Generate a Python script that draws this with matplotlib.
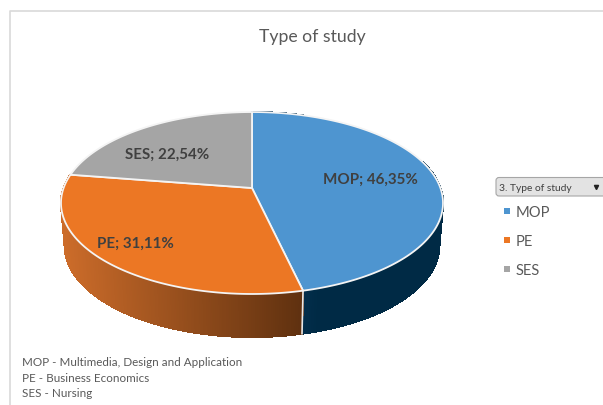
import matplotlib
matplotlib.use('Agg')
import matplotlib.pyplot as plt
import numpy as np
from matplotlib.colors import to_rgb
from matplotlib.patches import FancyBboxPatch

plt.rcParams['font.family'] = ['Lato', 'DejaVu Sans']

categories = ['MOP', 'PE', 'SES']
shares = [46.35, 31.11, 22.54]
colors = ['#4E95D0', '#EC7724', '#A5A5A5']
# wall colours left -> right along the front rim
wall_left = {'MOP': '#0A3A60', 'PE': '#CC6C2A'}
wall_right = {'MOP': '#002A45', 'PE': '#5E300F'}
notes = ['MOP - Multimedia, Design and Application', 'PE - Business Economics', 'SES - Nursing']
title = 'Type of study'
slicer_title = '3. Type of study'

# pie geometry in pixels, tilted with a bit of perspective
CX, CY = 252, 189
RX, RY = 188.4, 88.5
K = 0.165
DEPTH = 43
BOTTOM_SHRINK = 0.98


def rim(theta):
    # theta in radians, clockwise from 12 o'clock
    u, v = np.sin(theta), np.cos(theta)
    d = 1 + K * v
    return CX + RX * u / d, CY - RY * v / d


def mix(c1, c2, t):
    a, b = np.array(to_rgb(c1)), np.array(to_rgb(c2))
    return tuple(a + (b - a) * t)


fig = plt.figure(figsize=(6.03, 4.06), dpi=100)
ax = fig.add_axes([0, 0, 1, 1])
ax.set_xlim(0, 603)
ax.set_ylim(406, 0)
ax.axis('off')

# chart frame
ax.plot([9.5, 9.5, 603], [406, 11.5, 11.5], color='#D9D9D9', lw=1.2, zorder=1)

edges = np.deg2rad(np.cumsum([0] + shares) * 3.6)

# side wall, only the front part of the rim shows
for i, name in enumerate(categories):
    if name not in wall_left:
        continue
    t = np.linspace(edges[i], edges[i + 1], 240)
    x, y = rim(t)
    keep = (np.sin(t) * np.cos(t) < 0.3) | (np.cos(t) < 0.1)
    x, y = x[keep], y[keep]
    xb = CX + (x - CX) * BOTTOM_SHRINK
    x0, x1 = x.min(), x.max()
    for j in range(len(x) - 1):
        f = (min(x[j], x[j + 1]) - x0) / (x1 - x0)
        if name == 'MOP':
            f = min(1, f * 3)  # blue goes dark quickly
        ax.fill([x[j], x[j + 1], xb[j + 1], xb[j]],
                [y[j], y[j + 1], y[j + 1] + DEPTH, y[j] + DEPTH],
                color=mix(wall_left[name], wall_right[name], f), lw=0.8, antialiased=False, zorder=2)

# white seam between the two wall colours
sx, sy = rim(edges[1])
ax.plot([sx, CX + (sx - CX) * BOTTOM_SHRINK], [sy, sy + DEPTH], color='#E8E8E8', lw=1.2, zorder=3)

# top face
for i, name in enumerate(categories):
    t = np.linspace(edges[i], edges[i + 1], 200)
    x, y = rim(t)
    ax.fill(np.r_[CX, x], np.r_[CY, y], facecolor=colors[i], edgecolor='#F4F4F4',
            lw=1.3, joinstyle='round', zorder=4)

# data labels
label_pos = [(370, 180), (135.5, 244), (167.5, 154.5)]
for name, val, pos in zip(categories, shares, label_pos):
    ax.text(pos[0], pos[1], f'{name}; {val:.2f}'.replace('.', ',') + '%', ha='center', va='center',
            fontsize=10.9, fontweight='bold', color='#404040', zorder=5)

ax.text(312, 37, title, ha='center', va='center', fontsize=12.7, color='#595959')

# slicer style legend
ax.add_patch(FancyBboxPatch((496, 178.5), 112, 18.5, boxstyle='round,pad=0,rounding_size=3',
                            facecolor='#E3E3E3', edgecolor='#A6A6A6', lw=0.8, zorder=2))
ax.text(499, 188.5, slicer_title, ha='left', va='center', fontsize=7.4, color='#404040', zorder=3)
ax.plot([596], [188], marker='v', ms=3, color='#222222', zorder=3)
for name, col, yy in zip(categories, colors, [212, 241, 270]):
    ax.plot([507], [yy], marker='s', ms=4.6, color=col, mew=0)
    ax.text(516, yy + 1, name, ha='left', va='center', fontsize=10.6, color='#595959')

# footnote
for line, yy in zip(notes, [362.5, 378.5, 394]):
    ax.text(22, yy, line, ha='left', va='center', fontsize=8.35, color='#595959')

fig.savefig('out.png', dpi=100, facecolor='white')
